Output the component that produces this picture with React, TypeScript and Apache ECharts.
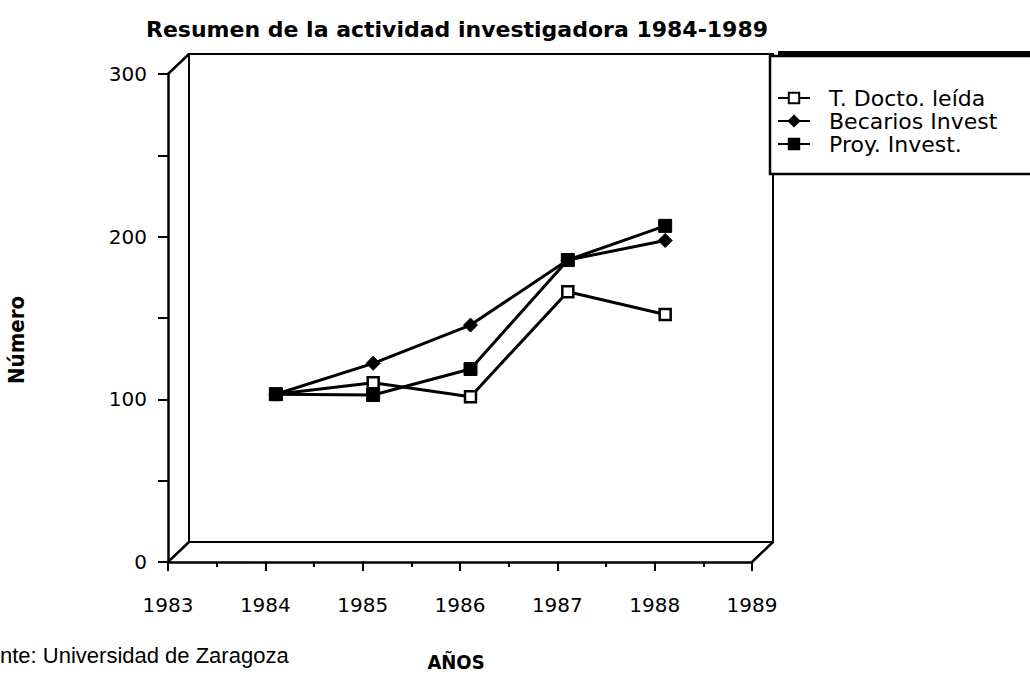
import React, { useEffect, useRef } from "react";
import * as echarts from "echarts";

const years = [1984, 1985, 1986, 1987, 1988];
const seriesNames = ["T. Docto. leída", "Becarios Invest", "Proy. Invest."];
const tDocto = [97, 104, 95.5, 160, 146];
const becarios = [97, 116, 139.5, 179.5, 191.5];
const proy = [97, 96.5, 112.5, 179.5, 200.5];
const xMin = 1983;
const xMax = 1989;
const yMin = 0;
const yMax = 300;

const FONT = "'DejaVu Sans', sans-serif";
const COND = "'DejaVu Sans Condensed', 'DejaVu Sans', sans-serif";

export default function App() {
  const ref = useRef<HTMLDivElement>(null);
  useEffect(() => {
    if (!ref.current) return;
    const chart = echarts.init(ref.current, null, { renderer: "svg" });
    const L = 168, T = 74, W = 584, H = 488;
    const dx = 21, dy = -20;
    const hidden = { show: false };
    const pair = (vals: number[]) => years.map((y, i) => [y, vals[i]]);
    const lineBase = {
      type: "line" as const,
      xAxisIndex: 2,
      yAxisIndex: 2,
      color: "#000",
      lineStyle: { color: "#000", width: 3 },
      z: 5,
    };
    chart.setOption({
      animation: false,
      backgroundColor: "#fff",
      title: {
        text: "Resumen de la actividad investigadora 1984-1989",
        left: 452,
        top: 13,
        textAlign: "center",
        textStyle: { fontFamily: FONT, fontWeight: "bold", fontSize: 22, color: "#000" },
      },
      legend: {
        orient: "vertical",
        left: 772,
        top: 82,
        itemWidth: 32,
        itemHeight: 13,
        itemGap: 1,
        data: seriesNames,
        textStyle: {
          fontFamily: FONT, fontSize: 22, lineHeight: 21, color: "#000", padding: [0, 0, 0, 14],
        },
      },
      grid: [
        { left: L, top: T, width: W, height: H, show: false },
        {
          left: L + dx, top: T + dy, width: W, height: H, show: true,
          borderColor: "#000", borderWidth: 2, backgroundColor: "transparent",
        },
        { left: L + dx / 2, top: T + dy / 2, width: W, height: H, show: false },
      ],
      xAxis: [
        {
          gridIndex: 0, type: "value", min: xMin, max: xMax, interval: 1,
          axisLine: { lineStyle: { color: "#000", width: 2.5 } },
          axisTick: { show: true, inside: false, length: 9, lineStyle: { color: "#000", width: 2 } },
          minorTick: { show: true, splitNumber: 2, length: 5, lineStyle: { color: "#000", width: 2 } },
          splitLine: { show: false },
          axisLabel: {
            formatter: (v: number) => String(v), fontFamily: FONT, fontSize: 20,
            color: "#000", margin: 33,
          },
          z: 10,
        },
        { gridIndex: 1, type: "value", min: xMin, max: xMax, interval: 1, axisLine: hidden, axisTick: hidden, axisLabel: hidden, splitLine: hidden },
        { gridIndex: 2, type: "value", min: xMin, max: xMax, interval: 1, axisLine: hidden, axisTick: hidden, axisLabel: hidden, splitLine: hidden },
      ],
      yAxis: [
        {
          gridIndex: 0, type: "value", min: yMin, max: yMax, interval: 100,
          axisLine: { show: true, lineStyle: { color: "#000", width: 2.5 } },
          axisTick: { show: true, inside: false, length: 10, lineStyle: { color: "#000", width: 2 } },
          minorTick: { show: true, splitNumber: 2, length: 10, lineStyle: { color: "#000", width: 2 } },
          splitLine: { show: false },
          axisLabel: { fontFamily: FONT, fontSize: 20, color: "#000", margin: 21 },
          z: 10,
        },
        { gridIndex: 1, type: "value", min: yMin, max: yMax, interval: 100, axisLine: hidden, axisTick: hidden, axisLabel: hidden, splitLine: hidden },
        { gridIndex: 2, type: "value", min: yMin, max: yMax, interval: 100, axisLine: hidden, axisTick: hidden, axisLabel: hidden, splitLine: hidden },
      ],
      series: [
        {
          ...lineBase,
          name: seriesNames[0],
          data: pair(tDocto),
          symbol: "rect",
          symbolSize: 11,
          itemStyle: { color: "#fff", borderColor: "#000", borderWidth: 2.5 },
        },
        {
          ...lineBase,
          name: seriesNames[1],
          data: pair(becarios),
          symbol: "diamond",
          symbolSize: 14,
          itemStyle: { color: "#000", borderColor: "#000", borderWidth: 1 },
        },
        {
          ...lineBase,
          name: seriesNames[2],
          data: pair(proy),
          symbol: "rect",
          symbolSize: 13,
          itemStyle: { color: "#000", borderColor: "#000", borderWidth: 1 },
        },
      ],
      graphic: [
        { type: "line", shape: { x1: L, y1: T, x2: L + dx, y2: T + dy }, style: { stroke: "#000", lineWidth: 2.5 } },
        { type: "line", shape: { x1: L, y1: T + H, x2: L + dx, y2: T + H + dy }, style: { stroke: "#000", lineWidth: 2.5 } },
        { type: "line", shape: { x1: L + W, y1: T + H, x2: L + W + dx, y2: T + H + dy }, style: { stroke: "#000", lineWidth: 2.5 } },
        // legend box
        { type: "rect", shape: { x: 770, y: 56, width: 270, height: 118 }, style: { fill: "#fff", stroke: "#000", lineWidth: 2.5 }, z: 1 },
        { type: "rect", shape: { x: 778, y: 51, width: 260, height: 6 }, style: { fill: "#000" }, z: 2 },
        {
          type: "text", x: 16, y: 340, rotation: Math.PI / 2,
          style: {
            text: "Número", fontFamily: COND, fontWeight: "bold", fontSize: 22, fill: "#000",
            align: "center", verticalAlign: "middle",
          },
        },
        {
          type: "text", x: 456, y: 662,
          style: {
            text: "AÑOS", fontFamily: COND, fontWeight: "bold", fontSize: 20, fill: "#000",
            align: "center", verticalAlign: "middle",
          },
        },
        {
          type: "text", x: 0, y: 655,
          style: {
            text: "nte: Universidad de Zaragoza", fontFamily: "'Liberation Sans', Arial, sans-serif",
            fontSize: 22, fill: "#000", verticalAlign: "middle", align: "left",
          },
        },
      ],
    });
    return () => chart.dispose();
  }, []);
  return (
    <div
      ref={ref}
      style={{ position: "fixed", left: 0, top: 0, width: 1030, height: 676, background: "#fff" }}
    />
  );
}
